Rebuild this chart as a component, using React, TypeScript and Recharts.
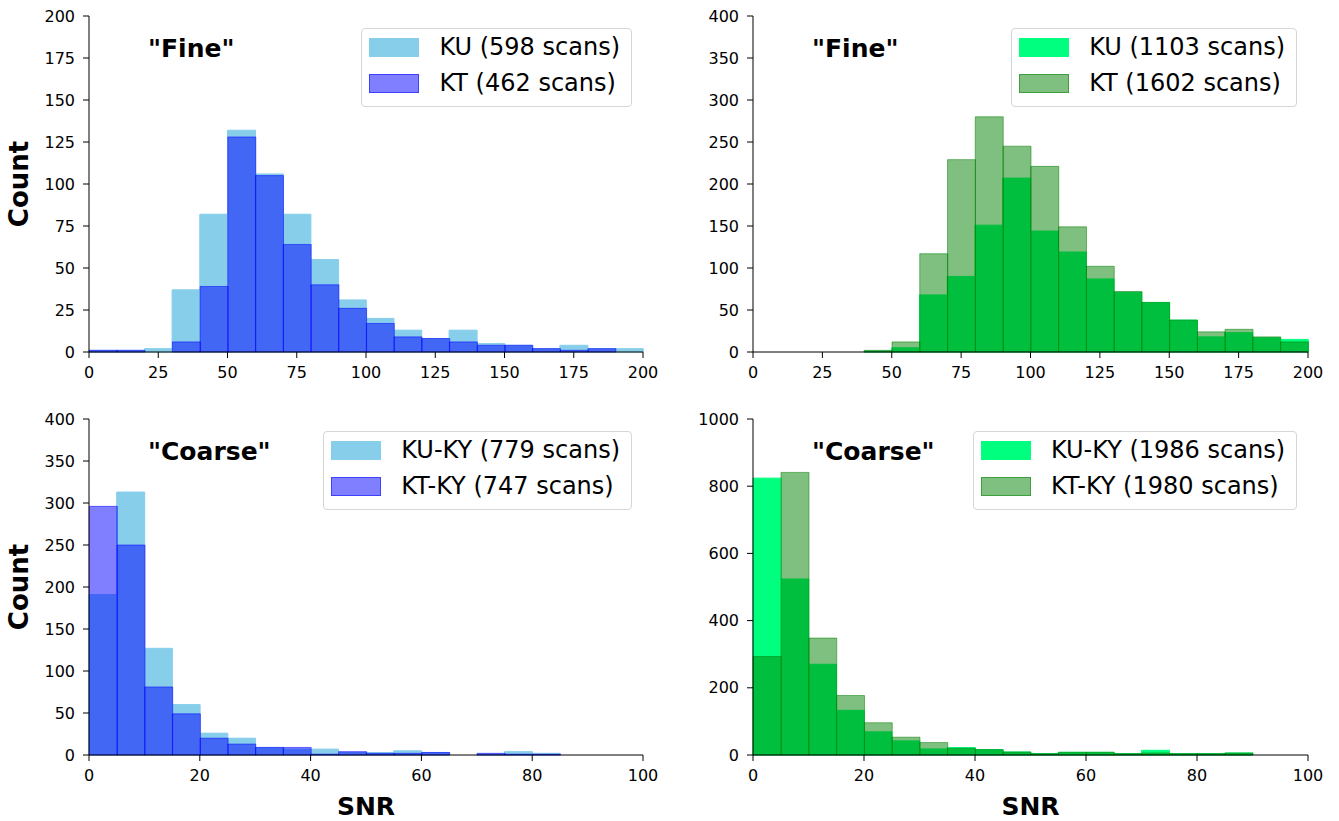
import React from "react";
import { ComposedChart, Bar, XAxis, YAxis } from "recharts";

// bin starts
const fineBins = [0, 10, 20, 30, 40, 50, 60, 70, 80, 90, 100, 110, 120, 130, 140, 150, 160, 170, 180, 190];
const coarseBins = [0, 5, 10, 15, 20, 25, 30, 35, 40, 45, 50, 55, 60, 65, 70, 75, 80, 85, 90, 95];

// counts per bin
const fineBlueKU = [1, 1, 2, 37, 82, 132, 106, 82, 55, 31, 20, 13, 8, 13, 5, 4, 2, 4, 2, 2];
const fineBlueKT = [1, 1, 0, 6, 39, 128, 105, 64, 40, 26, 17, 9, 8, 6, 4, 4, 2, 1, 2, 0];
const fineGreenKU = [0, 0, 0, 0, 1, 5, 68, 90, 151, 207, 144, 119, 87, 71, 59, 38, 18, 23, 17, 15];
const fineGreenKT = [0, 0, 0, 0, 2, 12, 117, 229, 280, 245, 221, 149, 102, 72, 59, 38, 24, 27, 18, 12];
const coarseBlueKU = [191, 313, 127, 60, 26, 20, 9, 7, 7, 3, 3, 5, 3, 0, 1, 4, 2, 0, 0, 0];
const coarseBlueKT = [296, 250, 81, 49, 20, 13, 9, 9, 1, 4, 2, 2, 3, 0, 2, 1, 1, 0, 0, 0];
const coarseGreenKU = [824, 524, 270, 133, 69, 42, 18, 22, 16, 9, 4, 8, 8, 4, 14, 4, 4, 6, 0, 0];
const coarseGreenKT = [293, 841, 348, 177, 96, 53, 37, 20, 16, 9, 4, 8, 8, 4, 6, 4, 4, 6, 0, 0];

const fineXTicks = [0, 25, 50, 75, 100, 125, 150, 175, 200];
const coarseXTicks = [0, 20, 40, 60, 80, 100];
const y200Ticks = [0, 25, 50, 75, 100, 125, 150, 175, 200];
const y400Ticks = [0, 50, 100, 150, 200, 250, 300, 350, 400];
const y1000Ticks = [0, 200, 400, 600, 800, 1000];

const BLUE = { ku: "#87ceeb", kt: "#0000ff" };
const GREEN = { ku: "#00ff7f", kt: "#008000" };

const FONT = "'DejaVu Sans', sans-serif";

const buildRows = (bins: number[], ku: number[], kt: number[]) =>
  bins.map((start, i) => ({ start, ku: ku[i], kt: kt[i] }));

const countLabel = (props: any) => {
  const vb = props.viewBox || { x: 0, y: 0, height: 0 };
  const x = 28;
  const cy = vb.y + vb.height / 2;
  return (
    <text x={x} y={cy} transform={`rotate(-90, ${x}, ${cy})`} textAnchor="middle"
      fontSize={26} fontWeight="bold" fill="#000" fontFamily={FONT}>
      Count
    </text>
  );
};

const snrLabel = (props: any) => {
  const vb = props.viewBox || { x: 0, y: 0, width: 0 };
  const cx = vb.x + vb.width / 2;
  const y = vb.y + 60;
  return (
    <text x={cx} y={y} textAnchor="middle" fontSize={25} fontWeight="bold" fill="#000" fontFamily={FONT}>
      SNR
    </text>
  );
};

function LegendBox({ top, right, items }: { top: number; right: number; items: { label: string; fill: string; border: string }[] }) {
  return (
    <div
      style={{
        position: "absolute",
        top,
        right,
        border: "1px solid #d6d6d6",
        borderRadius: 4,
        background: "rgba(255,255,255,0.8)",
        padding: "9px 11px 13px 7px",
      }}
    >
      {items.map((it, i) => (
        <div key={it.label} style={{ display: "flex", alignItems: "center", height: 19, marginTop: i ? 17 : 0 }}>
          <div style={{ width: 50, height: 19, boxSizing: "border-box", background: it.fill, border: it.border }} />
          <span style={{ marginLeft: 20, fontSize: 24, lineHeight: "19px", whiteSpace: "nowrap", color: "#000" }}>
            {it.label}
          </span>
        </div>
      ))}
    </div>
  );
}

type PanelProps = {
  left: number;
  top: number;
  width: number;
  height: number;
  marginTop: number;
  axisHeight: number;
  bins: number[];
  ku: number[];
  kt: number[];
  xMax: number;
  xTicks: number[];
  yMax: number;
  yTicks: number[];
  colors: { ku: string; kt: string };
  title: string;
  kuLabel: string;
  ktLabel: string;
  showCount: boolean;
  showSnr: boolean;
};

function Panel(p: PanelProps) {
  const data = buildRows(p.bins, p.ku, p.kt);
  const axisStyle = { stroke: "#000" };
  const tickStyle = { fontSize: 16, fill: "#000", fontFamily: FONT };
  return (
    <div style={{ position: "absolute", left: p.left, top: p.top, width: p.width, height: p.height }}>
      <ComposedChart
        width={p.width}
        height={p.height}
        data={data}
        margin={{ top: p.marginTop, right: 20, left: 0, bottom: 0 }}
        barCategoryGap={0}
        barGap="-100%"
      >
        <XAxis xAxisId="bins" dataKey="start" type="category" height={0} hide />
        <XAxis
          xAxisId="snr"
          dataKey="start"
          type="number"
          domain={[0, p.xMax]}
          ticks={p.xTicks}
          interval={0}
          height={p.axisHeight}
          tickSize={6}
          tickMargin={9}
          tick={tickStyle}
          axisLine={axisStyle}
          tickLine={axisStyle}
          label={p.showSnr ? snrLabel : undefined}
        />
        <XAxis xAxisId="frameTop" orientation="top" type="number" domain={[0, 1]} height={0} tick={false} tickLine={false} axisLine={axisStyle} />
        <YAxis
          yAxisId="count"
          type="number"
          domain={[0, p.yMax]}
          ticks={p.yTicks}
          interval={0}
          width={89}
          tickSize={6}
          tickMargin={8}
          tick={tickStyle}
          axisLine={axisStyle}
          tickLine={axisStyle}
          label={p.showCount ? countLabel : undefined}
        />
        <YAxis yAxisId="frameRight" orientation="right" type="number" domain={[0, 1]} width={0} tick={false} tickLine={false} axisLine={axisStyle} />
        <Bar
          xAxisId="bins"
          yAxisId="count"
          dataKey="ku"
          fill={p.colors.ku}
          stroke={p.colors.ku}
          strokeWidth={1}
          isAnimationActive={false}
        />
        <Bar
          xAxisId="bins"
          yAxisId="count"
          dataKey="kt"
          fill={p.colors.kt}
          fillOpacity={0.5}
          stroke={p.colors.kt}
          strokeOpacity={0.5}
          strokeWidth={1}
          isAnimationActive={false}
        />
      </ComposedChart>
      <div
        style={{
          position: "absolute",
          left: 148,
          top: p.marginTop + 20,
          fontSize: 25,
          lineHeight: "25px",
          fontWeight: "bold",
          color: "#000",
          whiteSpace: "nowrap",
        }}
      >
        {p.title}
      </div>
      <LegendBox
        top={p.marginTop + 12}
        right={31}
        items={[
          { label: p.kuLabel, fill: p.colors.ku, border: "none" },
          {
            label: p.ktLabel,
            fill: p.colors.kt === "#0000ff" ? "rgba(0,0,255,0.5)" : "rgba(0,128,0,0.5)",
            border: p.colors.kt === "#0000ff" ? "1px solid rgba(0,0,255,0.5)" : "1px solid rgba(0,128,0,0.5)",
          },
        ]}
      />
    </div>
  );
}

export default function App() {
  return (
    <div
      style={{
        position: "absolute",
        left: 0,
        top: 0,
        width: 1339,
        height: 821,
        background: "#fff",
        fontFamily: FONT,
      }}
    >
      <Panel
        left={0} top={0} width={663} height={392} marginTop={16} axisHeight={40}
        bins={fineBins} ku={fineBlueKU} kt={fineBlueKT}
        xMax={200} xTicks={fineXTicks} yMax={200} yTicks={y200Ticks}
        colors={BLUE} title={'"Fine"'} kuLabel="KU (598 scans)" ktLabel="KT (462 scans)"
        showCount showSnr={false}
      />
      <Panel
        left={664} top={0} width={664} height={392} marginTop={16} axisHeight={40}
        bins={fineBins} ku={fineGreenKU} kt={fineGreenKT}
        xMax={200} xTicks={fineXTicks} yMax={400} yTicks={y400Ticks}
        colors={GREEN} title={'"Fine"'} kuLabel="KU (1103 scans)" ktLabel="KT (1602 scans)"
        showCount={false} showSnr={false}
      />
      <Panel
        left={0} top={400} width={663} height={421} marginTop={19} axisHeight={66}
        bins={coarseBins} ku={coarseBlueKU} kt={coarseBlueKT}
        xMax={100} xTicks={coarseXTicks} yMax={400} yTicks={y400Ticks}
        colors={BLUE} title={'"Coarse"'} kuLabel="KU-KY (779 scans)" ktLabel="KT-KY (747 scans)"
        showCount showSnr
      />
      <Panel
        left={664} top={400} width={664} height={421} marginTop={19} axisHeight={66}
        bins={coarseBins} ku={coarseGreenKU} kt={coarseGreenKT}
        xMax={100} xTicks={coarseXTicks} yMax={1000} yTicks={y1000Ticks}
        colors={GREEN} title={'"Coarse"'} kuLabel="KU-KY (1986 scans)" ktLabel="KT-KY (1980 scans)"
        showCount={false} showSnr
      />
    </div>
  );
}
